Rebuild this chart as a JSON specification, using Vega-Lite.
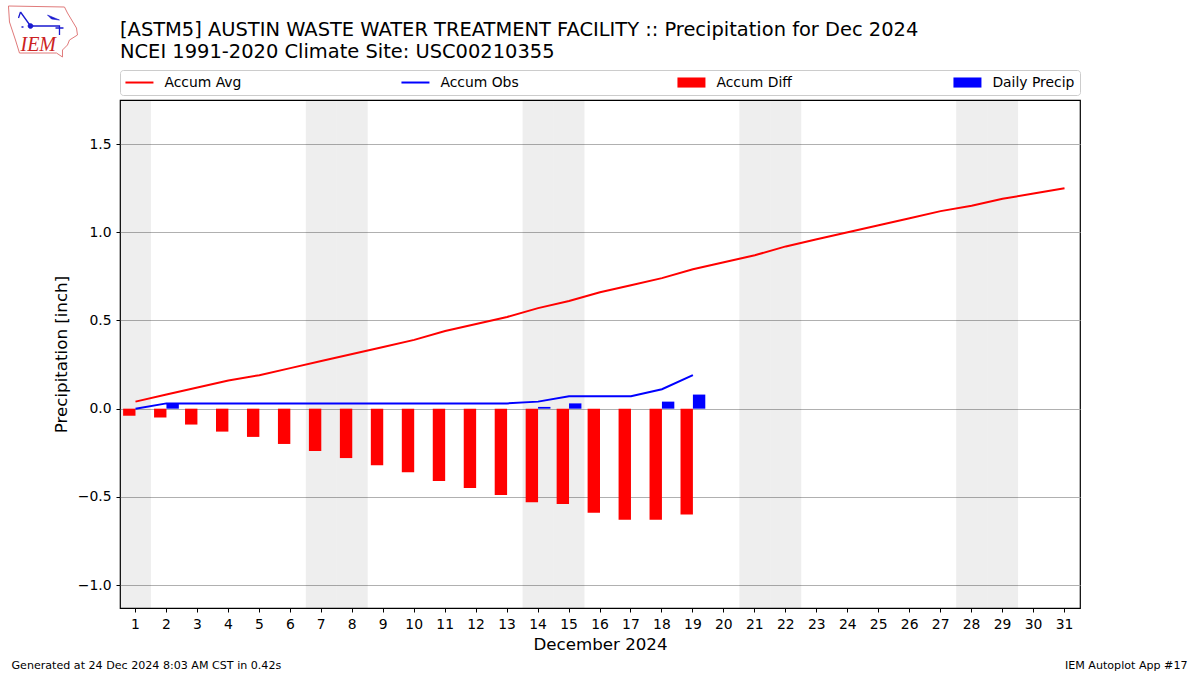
{
"$schema":"https://vega.github.io/schema/vega-lite/v6.json",
"width":960,"height":508,"autosize":"none",
"padding":{"left":120,"top":100,"right":120,"bottom":67},
"background":"white",
"config":{"font":"DejaVu Sans","view":{"stroke":"black","strokeWidth":1.2}},
"title":{"text":["[ASTM5] AUSTIN WASTE WATER TREATMENT FACILITY :: Precipitation for Dec 2024","NCEI 1991-2020 Climate Site: USC00210355"],"anchor":"start","frame":"group","fontSize":19.44,"fontWeight":"normal","lineHeight":22,"offset":-58,"color":"black"},
"datasets":{
"series":[
{"day":1,"series":"Accum Avg","value":0.04},{"day":2,"series":"Accum Avg","value":0.08},{"day":3,"series":"Accum Avg","value":0.12},{"day":4,"series":"Accum Avg","value":0.16},{"day":5,"series":"Accum Avg","value":0.19},{"day":6,"series":"Accum Avg","value":0.23},{"day":7,"series":"Accum Avg","value":0.27},{"day":8,"series":"Accum Avg","value":0.31},{"day":9,"series":"Accum Avg","value":0.35},{"day":10,"series":"Accum Avg","value":0.39},{"day":11,"series":"Accum Avg","value":0.44},{"day":12,"series":"Accum Avg","value":0.48},{"day":13,"series":"Accum Avg","value":0.52},{"day":14,"series":"Accum Avg","value":0.57},{"day":15,"series":"Accum Avg","value":0.61},{"day":16,"series":"Accum Avg","value":0.66},{"day":17,"series":"Accum Avg","value":0.70},{"day":18,"series":"Accum Avg","value":0.74},{"day":19,"series":"Accum Avg","value":0.79},{"day":20,"series":"Accum Avg","value":0.83},{"day":21,"series":"Accum Avg","value":0.87},{"day":22,"series":"Accum Avg","value":0.92},{"day":23,"series":"Accum Avg","value":0.96},{"day":24,"series":"Accum Avg","value":1.00},{"day":25,"series":"Accum Avg","value":1.04},{"day":26,"series":"Accum Avg","value":1.08},{"day":27,"series":"Accum Avg","value":1.12},{"day":28,"series":"Accum Avg","value":1.15},{"day":29,"series":"Accum Avg","value":1.19},{"day":30,"series":"Accum Avg","value":1.22},{"day":31,"series":"Accum Avg","value":1.25},
{"day":1,"series":"Accum Obs","value":0},{"day":2,"series":"Accum Obs","value":0.03},{"day":3,"series":"Accum Obs","value":0.03},{"day":4,"series":"Accum Obs","value":0.03},{"day":5,"series":"Accum Obs","value":0.03},{"day":6,"series":"Accum Obs","value":0.03},{"day":7,"series":"Accum Obs","value":0.03},{"day":8,"series":"Accum Obs","value":0.03},{"day":9,"series":"Accum Obs","value":0.03},{"day":10,"series":"Accum Obs","value":0.03},{"day":11,"series":"Accum Obs","value":0.03},{"day":12,"series":"Accum Obs","value":0.03},{"day":13,"series":"Accum Obs","value":0.03},{"day":14,"series":"Accum Obs","value":0.04},{"day":15,"series":"Accum Obs","value":0.07},{"day":16,"series":"Accum Obs","value":0.07},{"day":17,"series":"Accum Obs","value":0.07},{"day":18,"series":"Accum Obs","value":0.11},{"day":19,"series":"Accum Obs","value":0.19}
],
"bars":[
{"day":1,"series":"Accum Diff","value":-0.04},{"day":2,"series":"Accum Diff","value":-0.05},{"day":3,"series":"Accum Diff","value":-0.09},{"day":4,"series":"Accum Diff","value":-0.13},{"day":5,"series":"Accum Diff","value":-0.16},{"day":6,"series":"Accum Diff","value":-0.20},{"day":7,"series":"Accum Diff","value":-0.24},{"day":8,"series":"Accum Diff","value":-0.28},{"day":9,"series":"Accum Diff","value":-0.32},{"day":10,"series":"Accum Diff","value":-0.36},{"day":11,"series":"Accum Diff","value":-0.41},{"day":12,"series":"Accum Diff","value":-0.45},{"day":13,"series":"Accum Diff","value":-0.49},{"day":14,"series":"Accum Diff","value":-0.53},{"day":15,"series":"Accum Diff","value":-0.54},{"day":16,"series":"Accum Diff","value":-0.59},{"day":17,"series":"Accum Diff","value":-0.63},{"day":18,"series":"Accum Diff","value":-0.63},{"day":19,"series":"Accum Diff","value":-0.60},
{"day":2,"series":"Daily Precip","value":0.03},{"day":14,"series":"Daily Precip","value":0.01},{"day":15,"series":"Daily Precip","value":0.03},{"day":18,"series":"Daily Precip","value":0.04},{"day":19,"series":"Daily Precip","value":0.08}
]
},
"encoding":{
"x":{"field":"day","type":"ordinal","title":"December 2024",
"scale":{"type":"band","domain":[1,2,3,4,5,6,7,8,9,10,11,12,13,14,15,16,17,18,19,20,21,22,23,24,25,26,27,28,29,30,31],"paddingInner":0,"paddingOuter":0},
"axis":{"labelAngle":0,"labelFontSize":13.9,"labelColor":"black","tickColor":"black","domain":false,"titleFontSize":16.67,"titleFontWeight":"normal","titleColor":"black","tickSize":4,"labelPadding":5,"titlePadding":6,"grid":false}}
},
"layer":[
{"data":{"values":[{"day":1},{"day":7},{"day":8},{"day":14},{"day":15},{"day":21},{"day":22},{"day":28},{"day":29}]},
 "mark":{"type":"rect","fill":"#000000","opacity":0.068}},
{"data":{"name":"bars"},
 "mark":{"type":"bar"},
 "encoding":{
  "xOffset":{"field":"series","scale":{"type":"band","domain":["Accum Diff","Daily Precip"],"paddingInner":0,"paddingOuter":0.25}},
  "y":{"field":"value","type":"quantitative","title":"Precipitation [inch]",
   "scale":{"domain":[-1.13,1.75],"nice":false,"zero":false},
   "axis":{"values":[-1,-0.5,0,0.5,1,1.5],"format":".1f","labelFontSize":13.9,"labelColor":"black","tickColor":"black","domain":false,"tickSize":4,"gridColor":"#b0b0b0","gridWidth":1,"grid":true,"titleFontSize":16.67,"titleFontWeight":"normal","titleColor":"black","labelPadding":5,"titlePadding":7}},
  "color":{"field":"series","type":"nominal",
   "scale":{"domain":["Accum Avg","Accum Obs","Accum Diff","Daily Precip"],"range":["#ff0000","#0000ff","#ff0000","#0000ff"]},
   "legend":{"orient":"none","legendX":0,"legendY":-30,"direction":"horizontal","columns":4,"title":null,"gridAlign":"all","columnPadding":150,"padding":5.5,"labelFontSize":13.9,"labelColor":"black","labelOffset":18,"symbolOffset":7,"symbolSize":784,"symbolStrokeWidth":2,"strokeColor":"#cccccc","cornerRadius":3,"fillColor":"white",
    "encode":{"symbols":{"update":{
      "shape":{"signal":"(datum.value=='Accum Avg'||datum.value=='Accum Obs')?'stroke':'M-1,-0.36H1V0.36H-1Z'"},
      "fill":{"signal":"datum.value=='Accum Diff'?'#ff0000':datum.value=='Daily Precip'?'#0000ff':'transparent'"},
      "stroke":{"signal":"(datum.value=='Accum Avg'||datum.value=='Accum Diff')?'#ff0000':'#0000ff'"},
      "strokeWidth":{"signal":"(datum.value=='Accum Avg'||datum.value=='Accum Obs')?2:0"},
      "opacity":{"value":1}
    }}}}}
 }},
{"data":{"name":"series"},
 "mark":{"type":"line","strokeWidth":2},
 "encoding":{
  "y":{"field":"value","type":"quantitative"},
  "color":{"field":"series","type":"nominal"}
 }},
{"data":{"values":[{"label":"Generated at 24 Dec 2024 8:03 AM CST in 0.42s"}]},
 "mark":{"type":"text","align":"left","baseline":"middle","fontSize":11.1,"dx":-124,"dy":58,"color":"black"},
 "encoding":{"x":{"datum":1},"y":{"datum":-1.13},"text":{"field":"label"}}},
{"data":{"values":[{"label":"IEM Autoplot App #17"}]},
 "mark":{"type":"text","align":"right","baseline":"middle","fontSize":11.1,"dx":123,"dy":58,"color":"black"},
 "encoding":{"x":{"datum":31},"y":{"datum":-1.13},"text":{"field":"label"}}},
{"data":{"values":[{"label":"IEM"}]},
 "mark":{"type":"text","align":"left","baseline":"middle","font":"Liberation Serif","fontStyle":"italic","fontSize":20,"dx":-115,"dy":-55,"color":"#cc2222"},
 "encoding":{"x":{"datum":1},"y":{"datum":1.75},"text":{"field":"label"}}},
{"data":{"values":[{"label":"state outline"}]},
 "mark":{"type":"point","size":4,"filled":false,"opacity":1,"strokeWidth":1,"color":"#e07a7a","shape":"M-127,-94 L-71,-93 L-68,-87 L-59,-72 L-58,-65 L-66,-60 L-68,-55 L-73,-50 L-73,-43 L-79,-47 L-116,-47 L-120,-60 L-126,-78 Z"},
 "encoding":{"x":{"datum":1},"y":{"datum":1.75}}},
{"data":{"values":[{"label":"network lines"}]},
 "mark":{"type":"point","size":4,"filled":false,"opacity":1,"strokeWidth":1.3,"color":"#1a1ad0","shape":"M-115,-88 L-105,-74 H-76 V-65 M-115,-88 L-117,-82 M-80,-72 H-72 M-112,-73 L-114,-73"},
 "encoding":{"x":{"datum":1},"y":{"datum":1.75}}},
{"data":{"values":[{"label":"network nodes"}]},
 "mark":{"type":"point","size":4,"filled":true,"opacity":1,"stroke":"#1a1ad0","strokeWidth":0.6,"fill":"#1a1ad0","shape":"M-88,-85 L-76,-80 L-84,-81 Z M-107.5,-74 a2.5,2.5 0 1,0 5,0 a2.5,2.5 0 1,0 -5,0 Z"},
 "encoding":{"x":{"datum":1},"y":{"datum":1.75}}}
]
}
